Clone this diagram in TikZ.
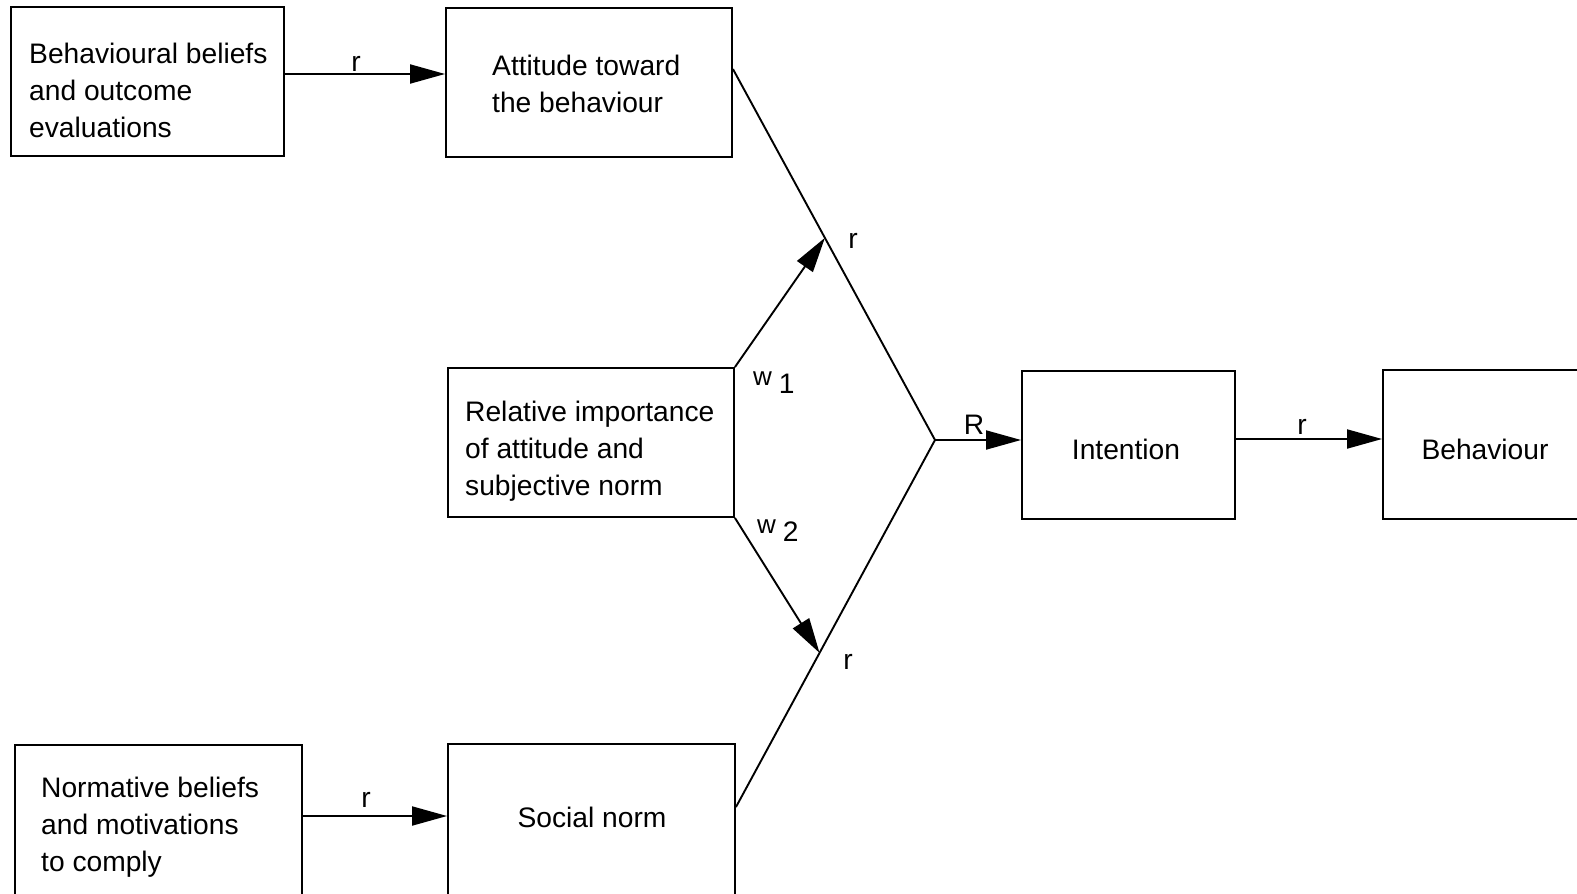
\documentclass[tikz,border=0pt]{standalone}
\usepackage{fontspec}
\setmainfont{Liberation Sans}
\usetikzlibrary{arrows.meta,calc}
\begin{document}
\begin{tikzpicture}[x=1pt,y=-1pt,
  box/.style={draw,line width=1.9pt,inner sep=0pt},
  txt/.style={font=\fontsize{28.2}{37}\selectfont,align=left,inner sep=0pt},
  lbl/.style={font=\fontsize{28.2}{33}\selectfont,inner sep=0pt},
  ln/.style={line width=1.9pt},
  arr/.style={line width=1.9pt,-{Triangle[length=35pt,width=19pt]}}]
\useasboundingbox (0,0) rectangle (1577,894);
\clip (0,0) rectangle (1577,894);
\newcommand{\wsize}{\fontsize{26}{28}\selectfont}

% boxes
\node[box,minimum width=273pt,minimum height=149pt] (bel) at (147.5,81.5) {};
\node[box,minimum width=286pt,minimum height=149pt] (att) at (589,82.5) {};
\node[box,minimum width=286pt,minimum height=149pt] (rel) at (591,442.5) {};
\node[box,minimum width=213pt,minimum height=148pt] (int) at (1128.5,445) {};
\node[box,minimum width=217pt,minimum height=149pt] (beh) at (1491.5,444.5) {};
\node[box,minimum width=287pt,minimum height=160pt] (nor) at (158.5,825) {};
\node[box,minimum width=287pt,minimum height=161pt] (soc) at (591.5,824.5) {};

% box texts
\node[txt,anchor=west] (tbel) at (29,90) {Behavioural beliefs\\and outcome\\evaluations};
\node[txt,anchor=west] (tatt) at (492,84) {Attitude toward\\the behaviour};
\node[txt,anchor=west] (trel) at (465,451) {Relative importance\\of attitude and\\subjective norm};
\node[txt,anchor=west] (tnor) at (41,827) {Normative beliefs\\and motivations\\to comply};
\node[txt] (tsoc) at (592,817) {Social norm};
\node[txt] (tint) at (1126,449) {Intention};
\node[txt] (tbeh) at (1485,449) {Behaviour};

% junction and connectors
\coordinate (j) at (935,440);
\coordinate (a0) at ($(att.north east)+(0,62)$);
\coordinate (s0) at ($(soc.north east)+(0,64)$);
\coordinate (ta) at ($(a0)!0.455!(j)$);
\coordinate (ts) at ($(s0)!0.42!(j)$);

\draw[arr] (bel.east |- 0,74) -- (att.west |- 0,74);
\draw[arr] (nor.east |- 0,816) -- (soc.west |- 0,816);
\draw[ln] (a0) -- (j) -- (s0);
\draw[arr] (rel.north east) -- (ta);
\draw[arr] (rel.south east) -- (ts);
\draw[arr] (j) -- (int.west |- j);
\draw[arr] (int.east |- 0,439) -- (beh.west |- 0,439);

% labels
\node[lbl] (r1) at (356,64) {r};
\node[lbl] (r2) at (366,800) {r};
\node[lbl] (r3) at (853,241) {r};
\node[lbl] (r4) at (848,662) {r};
\node[lbl] (rR) at (974,425) {R};
\node[lbl] (r5) at (1302,427) {r};
\node[lbl,anchor=base west] (w1) at (753,385) {{\wsize w}\hspace{7pt}\raisebox{-8pt}{1}};
\node[lbl,anchor=base west] (w2) at (757,533) {{\wsize w}\hspace{7pt}\raisebox{-8pt}{2}};
\end{tikzpicture}
\end{document}
